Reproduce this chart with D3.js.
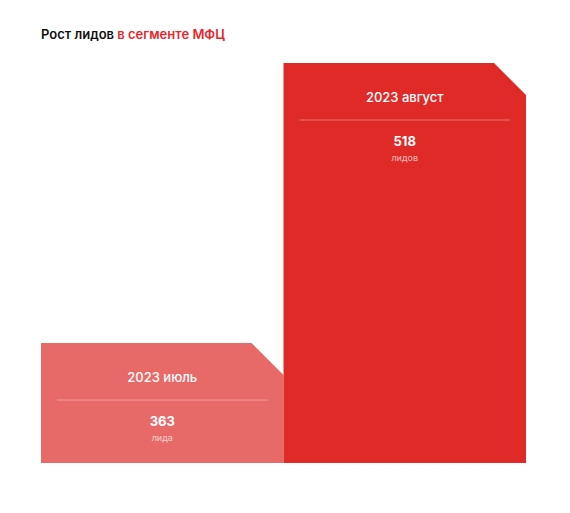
<!DOCTYPE html><html><head><meta charset="utf-8"><script src="https://cdn.jsdelivr.net/npm/d3@7"></script>
<style>body{margin:0;background:#fff}</style></head><body><svg id="c" width="570" height="513"></svg>
<script>
const categories=["2023 июль","2023 август"];
const values=[363,518];
const units=["лида","лидов"];
const colors=["#e86a68","#e02a27"];
const svg=d3.select("#c");
const F="Inter, 'Noto Sans', sans-serif";
const t=svg.append("text").attr("x",41).attr("y",39).attr("font-family",F).attr("font-size",13).attr("font-weight",600);
t.append("tspan").attr("fill","#111").text("Рост лидов ");
t.append("tspan").attr("fill","#e8262b").text("в сегменте МФЦ");
const x=d3.scaleBand().domain(categories).range([41,526]).padding(0);
const y=d3.scaleLinear().domain([296.6,518]).range([463,63]);
const cut=32;
categories.forEach((c,i)=>{
  const x0=x(c),x1=x0+x.bandwidth(),yt=y(values[i]),yb=y.range()[0];
  svg.append("path").attr("fill",colors[i]).attr("d",`M${x0},${yb}L${x0},${yt}L${x1-cut},${yt}L${x1},${yt+cut}L${x1},${yb}Z`);
  const cx=(x0+x1)/2;
  svg.append("text").attr("x",cx).attr("y",yt+39).attr("text-anchor","middle").attr("fill","#fff").attr("font-family",F).attr("font-size",13).attr("font-weight",500).text(c);
  svg.append("line").attr("x1",x0+16).attr("x2",x1-16).attr("y1",yt+57).attr("y2",yt+57).attr("stroke","rgba(255,255,255,0.35)").attr("stroke-width",1);
  svg.append("text").attr("x",cx).attr("y",yt+83).attr("text-anchor","middle").attr("fill","#fff").attr("font-family",F).attr("font-size",13).attr("font-weight",700).text(values[i]);
  svg.append("text").attr("x",cx).attr("y",yt+98).attr("text-anchor","middle").attr("fill","rgba(255,255,255,0.7)").attr("font-family",F).attr("font-size",9).text(units[i]);
});
</script></body></html>
